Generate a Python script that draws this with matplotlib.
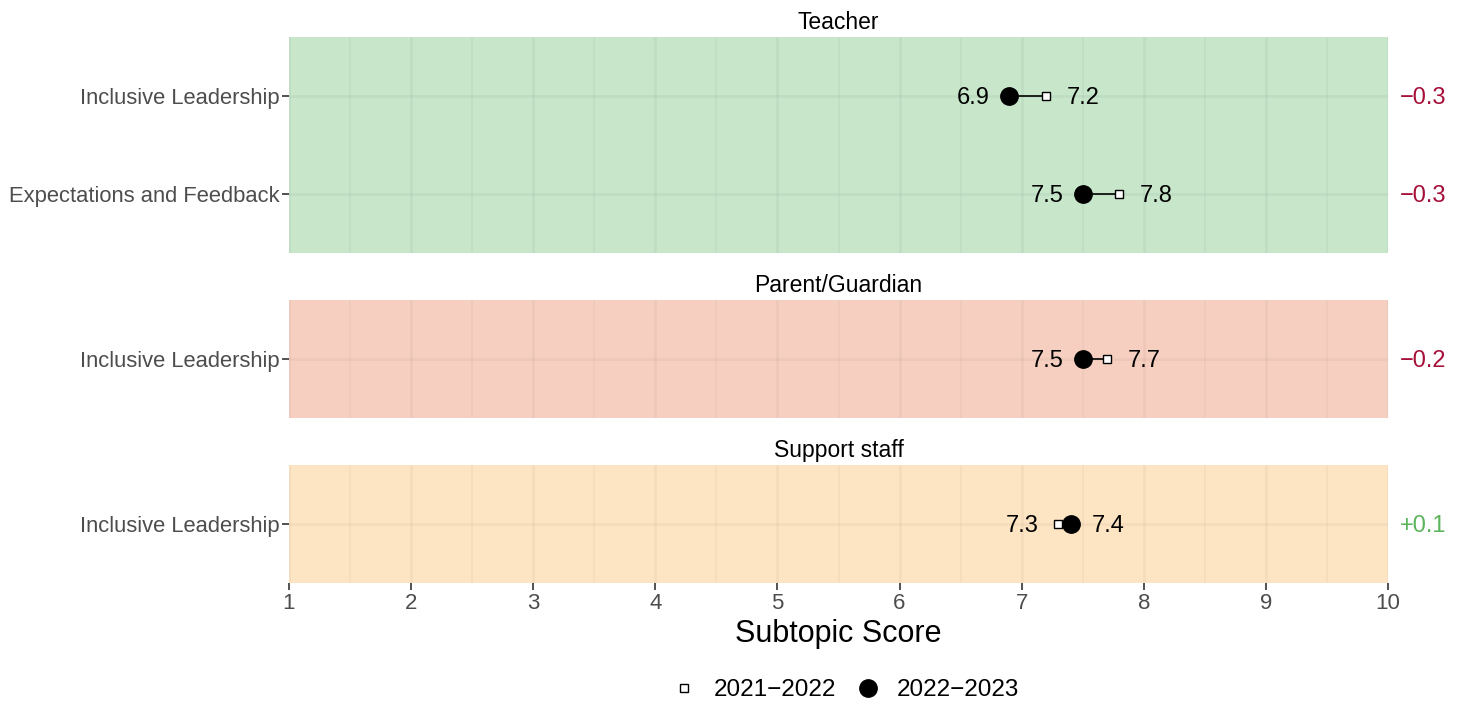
import matplotlib
matplotlib.use("Agg")
import matplotlib.pyplot as plt
from matplotlib.lines import Line2D

plt.rcParams['font.family'] = ['Liberation Sans', 'DejaVu Sans']

groups = ["Teacher", "Parent/Guardian", "Support staff"]
subtopics = [["Inclusive Leadership", "Expectations and Feedback"],
             ["Inclusive Leadership"],
             ["Inclusive Leadership"]]
scores_2021 = [[7.2, 7.8], [7.7], [7.3]]
scores_2022 = [[6.9, 7.5], [7.5], [7.4]]
diff_labels = [["\u22120.3", "\u22120.3"], ["\u22120.2"], ["+0.1"]]
bg_colors = ["#C7E6CA", "#F6CFC0", "#FDE5C3"]
neg_color = "#A50F38"
pos_color = "#5BB35A"
xticks = list(range(1, 11))

fig = plt.figure(figsize=(14.7, 7.05), dpi=100)
L, R = 289 / 1470, 1388 / 1470
panels_px = [(37, 253), (300, 418), (465, 583)]
H = 705
axes = []
for gi, (top, bot) in enumerate(panels_px):
    ax = fig.add_axes([L, 1 - bot / H, R - L, (bot - top) / H])
    axes.append(ax)
    n = len(subtopics[gi])
    ax.set_facecolor(bg_colors[gi])
    ax.set_xlim(1, 10)
    ax.set_ylim(n + 0.6, 0.4)
    ax.set_xticks(xticks)
    ax.set_xticks([x + 0.5 for x in xticks[:-1]], minor=True)
    ax.set_yticks(list(range(1, n + 1)))
    ax.set_yticklabels(subtopics[gi])
    ax.grid(True, which='major', color='#000000', alpha=0.035, linewidth=2.0)
    ax.grid(True, which='minor', axis='x', color='#000000', alpha=0.03, linewidth=1.2)
    ax.set_axisbelow(True)
    for s in ax.spines.values():
        s.set_visible(False)
    ax.tick_params(axis='y', which='major', length=5, width=1.2, color='#333333',
                   labelsize=15.8, labelcolor='#4D4D4D', pad=1.5)
    ax.tick_params(axis='x', which='minor', length=0)
    if gi < 2:
        ax.tick_params(axis='x', which='major', length=0, labelbottom=False)
    else:
        ax.tick_params(axis='x', which='major', length=5, width=1.2, color='#333333',
                       labelsize=16, labelcolor='#4D4D4D', pad=2)
        ax.set_xlabel("Subtopic Score", fontsize=22, labelpad=4)
    ax.set_title(groups[gi], fontsize=16.5, pad=6)

    for i in range(n):
        y = i + 1
        a, b = scores_2021[gi][i], scores_2022[gi][i]
        ax.plot([a, b], [y, y], color='black', linewidth=1.2, zorder=3)
        ax.plot(a, y, marker='s', markersize=6, markerfacecolor='white',
                markeredgecolor='black', markeredgewidth=1.0, linestyle='none', zorder=4)
        ax.plot(b, y, marker='o', markersize=12.5, color='black', linestyle='none', zorder=5)
        lo, hi = min(a, b), max(a, b)
        ax.annotate(f"{lo:.1f}", (lo, y), xytext=(-14, -1.2), textcoords='offset points',
                    ha='right', va='center', fontsize=17)
        ax.annotate(f"{hi:.1f}", (hi, y), xytext=(15, -1.2), textcoords='offset points',
                    ha='left', va='center', fontsize=17)
        d = b - a
        col = pos_color if d > 0 else neg_color
        ax.annotate(diff_labels[gi][i], (1, y), xycoords=('axes fraction', 'data'),
                    xytext=(8.5, -1.2), textcoords='offset points', ha='left', va='center',
                    fontsize=17, color=col)

handles = [Line2D([], [], marker='s', markersize=6, markerfacecolor='white',
                  markeredgecolor='black', linestyle='none', label="2021\u22122022"),
           Line2D([], [], marker='o', markersize=12.5, color='black',
                  linestyle='none', label="2022\u22122023")]
fig.legend(handles=handles, loc='center', bbox_to_anchor=(0.5745, 1 - 690 / H), ncol=2,
           frameon=False, fontsize=17.5, handletextpad=0.6, columnspacing=0.7,
           handlelength=1.2)

fig.savefig("out.png", dpi=100)
